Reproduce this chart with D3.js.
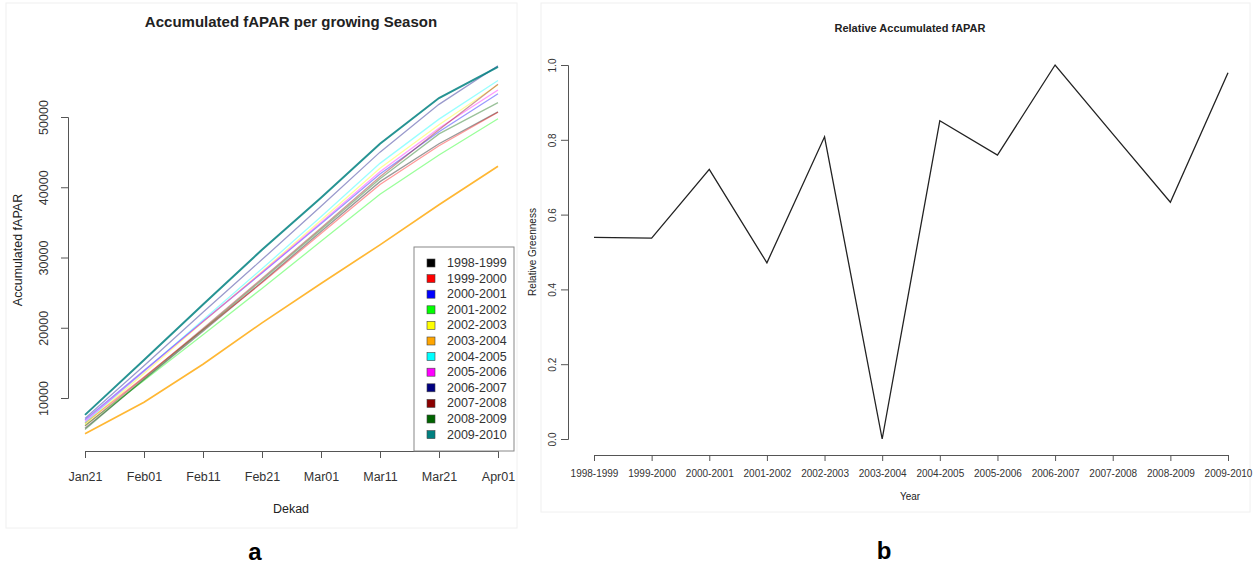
<!DOCTYPE html>
<html><head><meta charset="utf-8">
<script src="https://cdn.jsdelivr.net/npm/d3@7"></script>
<style>body{margin:0;background:#fff;} text{font-family:"Liberation Sans",Arial,sans-serif;}</style>
</head><body><svg id="c" width="1253" height="565"></svg>
<script>
// ---------- data: panel a ----------
const dekads = ["Jan21","Feb01","Feb11","Feb21","Mar01","Mar11","Mar21","Apr01"];
const seasons = ["1998-1999","1999-2000","2000-2001","2001-2002","2002-2003","2003-2004",
                 "2004-2005","2005-2006","2006-2007","2007-2008","2008-2009","2009-2010"];
const seasonColors = ["#000000","#ff0000","#0000ff","#00ff00","#ffff00","#ffa500",
                      "#00ffff","#ff00ff","#000080","#8b0000","#006400","#008080"];
const acc1998 = [5700, 12600, 19500, 26500, 33700, 40800, 46200, 50720];
const acc1999 = [6400, 13000, 19700, 26400, 33400, 40400, 45900, 50680];
const acc2000 = [6900, 13900, 20900, 27800, 34800, 41900, 47900, 53300];
const acc2001 = [6100, 12500, 19000, 25600, 32300, 39000, 44600, 49750];
const acc2002 = [6300, 13500, 20800, 28000, 35300, 42700, 48900, 54600];
const acc2003 = [4900, 9400, 14800, 20700, 26300, 31800, 37500, 43000];
const acc2004 = [6500, 13800, 21100, 28400, 35800, 43400, 49700, 55200];
const acc2005 = [6700, 13800, 20900, 27900, 35000, 42200, 48400, 53850];
const acc2006 = [7100, 14600, 22200, 29700, 37300, 45000, 51800, 57300];
const acc2007 = [6000, 12900, 19900, 27000, 34200, 41500, 48200, 54650];
const acc2008 = [5500, 12700, 19700, 26800, 34000, 41200, 47600, 52050];
const acc2009 = [7600, 15400, 23300, 31100, 38500, 46200, 52700, 57150];
const yTicksA = [10000, 20000, 30000, 40000, 50000];

// ---------- data: panel b ----------
const years = seasons;
const relGreen = [0.539, 0.537, 0.721, 0.471, 0.808, 0.0, 0.851, 0.759, 1.0, 0.816, 0.633, 0.979];
const yTicksB = [0.0, 0.2, 0.4, 0.6, 0.8, 1.0];

const accSeries = [acc1998, acc1999, acc2000, acc2001, acc2002, acc2003,
                   acc2004, acc2005, acc2006, acc2007, acc2008, acc2009];

const svg = d3.select("#c");
const axisCol = "#555";
const txtCol = "#222";

// faint panel frames
svg.append("rect").attr("x",6).attr("y",3).attr("width",511).attr("height",525)
  .attr("fill","none").attr("stroke","#f0f0f0");
svg.append("rect").attr("x",541).attr("y",3).attr("width",709).attr("height",509)
  .attr("fill","none").attr("stroke","#f0f0f0");

// ================= Panel a =================
const xA = d3.scalePoint().domain(dekads).range([85, 498]);
const yA = d3.scaleLinear().domain([10000, 50000]).range([398, 117]);

const gA = svg.append("g");
// x axis
const xAxA = gA.append("g").attr("transform","translate(0,451)")
  .call(d3.axisBottom(xA).tickSizeOuter(0).tickSize(7));
xAxA.select(".domain").attr("stroke",axisCol);
xAxA.selectAll(".tick line").attr("stroke",axisCol);
xAxA.selectAll(".tick text").attr("y",26).attr("dy","0.35em")
  .attr("font-size","12.5px").attr("fill","#333");
// y axis
const yAxA = gA.append("g").attr("transform","translate(68,0)")
  .call(d3.axisLeft(yA).tickValues(yTicksA).tickSizeOuter(0).tickSize(7).tickFormat(d3.format("d")));
yAxA.select(".domain").attr("stroke",axisCol);
yAxA.selectAll(".tick line").attr("stroke",axisCol);
yAxA.selectAll(".tick text").attr("x",0).attr("dy",null)
  .attr("transform","translate(-24,0) rotate(-90)")
  .attr("text-anchor","middle").attr("dominant-baseline","central")
  .attr("font-size","12.5px").attr("fill","#333");

// lines
const lineA = d3.line().x((d,i)=>xA(dekads[i])).y(d=>yA(d));
accSeries.forEach((s,k)=>{
  const strong = (k===5 || k===11);
  gA.append("path").datum(s).attr("d",lineA).attr("fill","none")
    .attr("stroke",seasonColors[k])
    .attr("stroke-opacity", k===11 ? 0.85 : (k===5 ? 0.8 : 0.4))
    .attr("stroke-width", k===11 ? 2 : (strong ? 1.7 : 1.3));
});

// legend
const lg = gA.append("g");
lg.append("rect").attr("x",414).attr("y",247).attr("width",100).attr("height",204)
  .attr("fill","#fff").attr("stroke","#888");
seasons.forEach((s,k)=>{
  const yy = 263 + k*15.6;
  lg.append("rect").attr("x",427).attr("y",yy-4).attr("width",8).attr("height",8)
    .attr("fill",seasonColors[k]).attr("stroke","#444").attr("stroke-width",0.6);
  lg.append("text").attr("x",447).attr("y",yy).attr("dominant-baseline","central")
    .attr("font-size","12.5px").attr("fill","#333").text(s);
});

// titles / labels
gA.append("text").attr("x",291).attr("y",21).attr("text-anchor","middle")
  .attr("dominant-baseline","central").attr("font-weight","bold").attr("font-size","15px")
  .attr("fill",txtCol).text("Accumulated fAPAR per growing Season");
gA.append("text").attr("transform","translate(18,250) rotate(-90)").attr("text-anchor","middle")
  .attr("dominant-baseline","central").attr("font-size","12.5px").attr("fill",txtCol)
  .text("Accumulated fAPAR");
gA.append("text").attr("x",291).attr("y",509).attr("text-anchor","middle")
  .attr("dominant-baseline","central").attr("font-size","12.5px").attr("fill",txtCol).text("Dekad");
gA.append("text").attr("x",255).attr("y",551).attr("text-anchor","middle")
  .attr("dominant-baseline","central").attr("font-weight","bold").attr("font-size","24px")
  .attr("fill","#000").text("a");

// ================= Panel b =================
const xB = d3.scalePoint().domain(years).range([594, 1228]);
const yB = d3.scaleLinear().domain([0, 1]).range([439, 65]);
const gB = svg.append("g");

const xAxB = gB.append("g").attr("transform","translate(0,455)")
  .call(d3.axisBottom(xB).tickSizeOuter(0).tickSize(6));
xAxB.select(".domain").attr("stroke",axisCol);
xAxB.selectAll(".tick line").attr("stroke",axisCol);
xAxB.selectAll(".tick text").attr("y",18).attr("dy","0.35em")
  .attr("font-size","10px").attr("fill","#333");

const yAxB = gB.append("g").attr("transform","translate(568,0)")
  .call(d3.axisLeft(yB).tickValues(yTicksB).tickSizeOuter(0).tickSize(7).tickFormat(d3.format(".1f")));
yAxB.select(".domain").attr("stroke",axisCol);
yAxB.selectAll(".tick line").attr("stroke",axisCol);
yAxB.selectAll(".tick text").attr("x",0).attr("dy",null)
  .attr("transform","translate(-16,0) rotate(-90)")
  .attr("text-anchor","middle").attr("dominant-baseline","central")
  .attr("font-size","10px").attr("fill","#333");

const lineB = d3.line().x((d,i)=>xB(years[i])).y(d=>yB(d));
gB.append("path").datum(relGreen).attr("d",lineB).attr("fill","none")
  .attr("stroke","#222").attr("stroke-width",1.3);

gB.append("text").attr("x",910).attr("y",28).attr("text-anchor","middle")
  .attr("dominant-baseline","central").attr("font-weight","bold").attr("font-size","11px")
  .attr("fill",txtCol).text("Relative Accumulated fAPAR");
gB.append("text").attr("transform","translate(532,252) rotate(-90)").attr("text-anchor","middle")
  .attr("dominant-baseline","central").attr("font-size","10px").attr("fill",txtCol)
  .text("Relative Greenness");
gB.append("text").attr("x",910).attr("y",496).attr("text-anchor","middle")
  .attr("dominant-baseline","central").attr("font-size","10px").attr("fill",txtCol).text("Year");
gB.append("text").attr("x",884).attr("y",550).attr("text-anchor","middle")
  .attr("dominant-baseline","central").attr("font-weight","bold").attr("font-size","24px")
  .attr("fill","#000").text("b");
</script></body></html>
